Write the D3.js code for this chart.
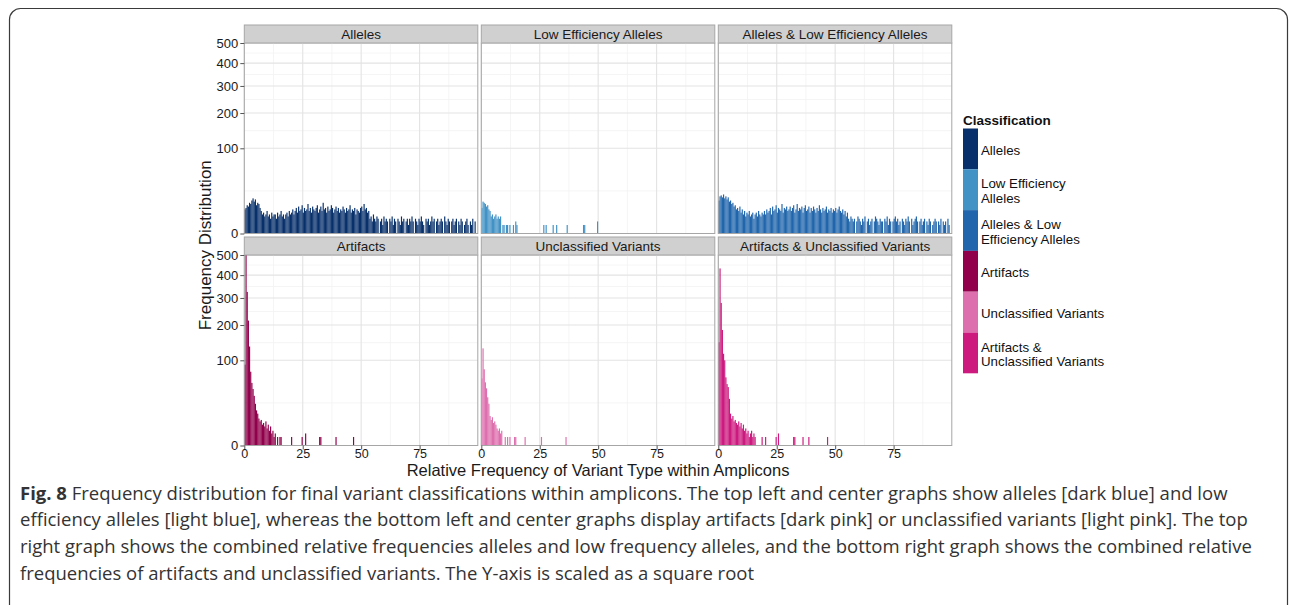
<!DOCTYPE html>
<html>
<head>
<meta charset="utf-8">
<script src="https://cdn.jsdelivr.net/npm/d3@7"></script>
<style>
  body { margin: 0; background: #fff; }
  svg { display: block; }
  .axis text, .strip text, .legend text, .title { font-family: "Liberation Sans", Arial, sans-serif; }
  .caption { font-family: "Open Sans", sans-serif; fill: #333; }
</style>
</head>
<body>
<svg id="chart" width="1290" height="605"></svg>
<script>
// histogram counts per 0.5-wide bin of relative frequency (%), starting at 0
const binWidth = 0.5;

const alleles = [
  8, 9, 11, 10, 13, 12, 15, 17, 14, 16, 11, 13, 12, 9, 7, 5, 6, 4, 5, 7,
  4, 5, 3, 6, 4, 5, 5, 3, 6, 4, 5, 7, 4, 5, 3, 5, 6, 4, 7, 5,
  6, 8, 5, 7, 9, 6, 10, 7, 8, 11, 6, 9, 7, 8, 12, 7, 9, 6, 10, 8,
  7, 9, 11, 6, 8, 10, 7, 13, 8, 9, 6, 10, 7, 8, 11, 9, 6, 8, 10, 7,
  9, 6, 8, 7, 10, 8, 6, 9, 7, 8, 11, 6, 8, 7, 9, 5, 8, 7, 6, 9,
  10, 7, 12, 8, 9, 6, 7, 3, 4, 2, 5, 3, 2, 4, 3, 0, 2, 3, 1, 4,
  2, 3, 2, 0, 3, 2, 4, 1, 3, 2, 0, 3, 2, 1, 4, 2, 3, 0, 2, 3,
  1, 3, 2, 4, 2, 0, 3, 2, 1, 3, 2, 4, 2, 1, 0, 3, 2, 3, 1, 2,
  4, 2, 3, 0, 2, 3, 1, 2, 3, 2, 0, 4, 2, 1, 3, 2, 0, 2, 3, 1,
  2, 3, 0, 2, 1, 3, 2, 0, 1, 2, 3, 1, 0, 2, 1, 3, 0, 2
];

const lowEfficiency = [
  9, 14, 13, 12, 10, 11, 8, 7, 4, 5, 3, 4, 5, 3, 4, 3, 4, 0, 1, 1,
  0, 1, 1, 0, 1, 0, 0, 1, 0, 2, 1, 0, 0, 0, 0, 0, 0, 0, 0, 0,
  0, 0, 0, 0, 0, 0, 0, 0, 0, 0, 0, 0, 0, 1, 0, 1, 0, 0, 0, 0,
  0, 1, 0, 0, 1, 0, 0, 0, 0, 0, 0, 0, 0, 1, 0, 0, 0, 0, 0, 0,
  0, 0, 0, 0, 0, 0, 0, 1, 1, 0, 0, 0, 0, 0, 0, 0, 0, 0, 0, 2
];

const allelesLowEff = [
  15, 19, 20, 18, 21, 17, 19, 16, 18, 14, 15, 12, 13, 10, 11, 8, 9, 7, 10, 6,
  8, 5, 7, 4, 6, 5, 7, 4, 5, 6, 3, 5, 6, 4, 7, 5, 4, 6, 5, 7,
  5, 8, 6, 7, 9, 5, 10, 7, 8, 11, 6, 9, 8, 7, 12, 6, 9, 8, 10, 7,
  8, 10, 7, 9, 11, 6, 8, 12, 7, 9, 8, 10, 6, 9, 11, 7, 8, 10, 6, 9,
  7, 10, 8, 6, 9, 7, 11, 8, 6, 9, 7, 8, 10, 6, 8, 7, 9, 6, 8, 7,
  9, 6, 8, 10, 7, 6, 8, 5, 7, 4, 6, 3, 2, 4, 3, 2, 3, 0, 2, 4,
  3, 2, 1, 3, 2, 4, 0, 2, 3, 1, 2, 3, 0, 2, 4, 3, 2, 1, 3, 2,
  2, 0, 3, 2, 4, 1, 3, 2, 0, 2, 3, 4, 2, 3, 1, 2, 0, 3, 2, 1,
  3, 2, 4, 2, 0, 3, 1, 2, 3, 4, 2, 0, 2, 3, 1, 2, 3, 0, 2, 1,
  3, 2, 0, 1, 2, 3, 2, 0, 2, 1, 3, 0, 2, 1, 2, 0, 3, 1
];

const artifacts = [
  90, 500, 325, 215, 135, 75, 54, 44, 34, 24, 17, 14, 10, 8, 9, 6, 7, 5, 8, 4,
  6, 3, 5, 2, 3, 1, 2, 0, 1, 0, 1, 1, 0, 0, 0, 0, 0, 0, 0, 0,
  1, 0, 0, 0, 0, 0, 0, 0, 0, 1, 0, 0, 2, 0, 0, 0, 0, 0, 0, 0,
  0, 0, 0, 0, 1, 1, 0, 0, 0, 0, 0, 0, 0, 0, 0, 0, 0, 0, 1, 0,
  0, 0, 0, 0, 0, 0, 0, 0, 0, 0, 0, 0, 0, 1
];

const unclassified = [
  62, 130, 80, 55, 45, 32, 24, 12, 9, 11, 7, 8, 6, 4, 3, 4, 2, 3, 0, 0,
  1, 0, 1, 0, 1, 0, 0, 0, 1, 1, 0, 0, 0, 0, 0, 0, 0, 1, 0, 0,
  0, 0, 0, 0, 0, 0, 0, 0, 0, 0, 0, 1, 0, 0, 0, 0, 0, 0, 0, 0,
  0, 0, 0, 0, 0, 0, 0, 0, 0, 0, 0, 0, 1
];

const artifactsUnclassified = [
  147, 432, 280, 184, 116, 100, 64, 52, 47, 30, 14, 10, 12, 8, 9, 7, 6, 8, 5, 7,
  4, 6, 3, 4, 2, 3, 1, 2, 3, 1, 2, 1, 0, 0, 0, 0, 0, 1, 0, 0,
  1, 0, 0, 0, 0, 0, 0, 0, 0, 1, 0, 2, 0, 0, 0, 0, 0, 0, 0, 0,
  0, 0, 0, 0, 1, 1, 0, 0, 0, 0, 0, 0, 1, 0, 0, 0, 0, 1, 0, 0,
  0, 0, 0, 0, 0, 0, 0, 0, 0, 0, 0, 0, 0, 1
];

const classes = [
  "Alleles", "Low Efficiency Alleles", "Alleles & Low Efficiency Alleles",
  "Artifacts", "Unclassified Variants", "Artifacts & Unclassified Variants"
];
const legendLabels = [
  ["Alleles"], ["Low Efficiency", "Alleles"], ["Alleles & Low", "Efficiency Alleles"],
  ["Artifacts"], ["Unclassified Variants"], ["Artifacts &", "Unclassified Variants"]
];
const series = [alleles, lowEfficiency, allelesLowEff, artifacts, unclassified, artifactsUnclassified];
const yTicks = [0, 100, 200, 300, 400, 500];
const xTicks = [0, 25, 50, 75];

const captionLines = [
  " Frequency distribution for final variant classifications within amplicons. The top left and center graphs show alleles [dark blue] and low",
  "efficiency alleles [light blue], whereas the bottom left and center graphs display artifacts [dark pink] or unclassified variants [light pink]. The top",
  "right graph shows the combined relative frequencies alleles and low frequency alleles, and the bottom right graph shows the combined relative",
  "frequencies of artifacts and unclassified variants. The Y-axis is scaled as a square root"
];

const colors = ["#08306b", "#4292c6", "#2166ac", "#91004b", "#de6fae", "#cc1a7e"];

const svg = d3.select("#chart");

// figure frame
svg.append("rect")
  .attr("x", 9.5).attr("y", 8.5)
  .attr("width", 1278).attr("height", 700)
  .attr("rx", 11)
  .attr("fill", "none").attr("stroke", "#3a3a3a").attr("stroke-width", 1.2);

const panelW = 233.5, panelH = 190.5, stripH = 18, gap = 3.5;
const plotLeft = 244.3, plotTop = 25;

const x = d3.scaleLinear().domain([0, 99.9]).range([0, panelW]);
const y = d3.scaleSqrt().domain([0, 500]).range([panelH, 0]);

const yMinor = yTicks.slice(1).map((v, i) => ((Math.sqrt(v) + Math.sqrt(yTicks[i])) / 2) ** 2);
const xMinor = [12.5, 37.5, 62.5, 87.5];

series.forEach((counts, k) => {
  const col = k % 3, row = Math.floor(k / 3);
  const px = plotLeft + col * (panelW + gap);
  const py = plotTop + row * (stripH + panelH + gap);

  const strip = svg.append("g").attr("class", "strip").attr("transform", `translate(${px},${py})`);
  strip.append("rect")
    .attr("x", 0).attr("y", 0).attr("width", panelW).attr("height", stripH)
    .attr("fill", "#d0d0d0").attr("stroke", "#a6a6a6");
  strip.append("text")
    .attr("x", panelW / 2).attr("y", stripH / 2 + 4.8)
    .attr("text-anchor", "middle").attr("font-size", 13.5).attr("fill", "#1a1a1a")
    .text(classes[k]);

  const g = svg.append("g").attr("transform", `translate(${px},${py + stripH})`);

  g.append("g").selectAll("line").data(yMinor).join("line")
    .attr("x1", 0).attr("x2", panelW)
    .attr("y1", (d) => y(d)).attr("y2", (d) => y(d))
    .attr("stroke", "#f2f2f2").attr("stroke-width", 0.8);
  g.append("g").selectAll("line").data(xMinor).join("line")
    .attr("y1", 0).attr("y2", panelH)
    .attr("x1", (d) => x(d)).attr("x2", (d) => x(d))
    .attr("stroke", "#f2f2f2").attr("stroke-width", 0.8);
  g.append("g").selectAll("line").data(yTicks).join("line")
    .attr("x1", 0).attr("x2", panelW)
    .attr("y1", (d) => y(d)).attr("y2", (d) => y(d))
    .attr("stroke", "#e3e3e3").attr("stroke-width", 1.1);
  g.append("g").selectAll("line").data(xTicks).join("line")
    .attr("y1", 0).attr("y2", panelH)
    .attr("x1", (d) => x(d)).attr("x2", (d) => x(d))
    .attr("stroke", "#e3e3e3").attr("stroke-width", 1.1);

  const bars = counts.map((c, i) => ({ x0: i * binWidth, c })).filter((d) => d.c > 0);
  g.append("g").selectAll("rect").data(bars).join("rect")
    .attr("x", (d) => x(d.x0))
    .attr("width", x(binWidth) - x(0))
    .attr("y", (d) => y(d.c))
    .attr("height", (d) => panelH - y(d.c))
    .attr("fill", colors[k]);

  g.append("rect")
    .attr("width", panelW).attr("height", panelH)
    .attr("fill", "none").attr("stroke", "#a6a6a6");

  if (col === 0) {
    const ax = g.append("g").attr("class", "axis")
      .call(d3.axisLeft(y).tickValues(yTicks).tickSize(4).tickPadding(2));
    ax.select(".domain").remove();
    ax.selectAll("line").attr("stroke", "#555");
    ax.selectAll("text").attr("font-size", 13).attr("fill", "#1a1a1a");
  }
  if (row === 1) {
    const ax = g.append("g").attr("class", "axis").attr("transform", `translate(0,${panelH})`)
      .call(d3.axisBottom(x).tickValues(xTicks).tickSize(4).tickPadding(0));
    ax.select(".domain").remove();
    ax.selectAll("line").attr("stroke", "#555");
    ax.selectAll("text").attr("font-size", 12.5).attr("fill", "#1a1a1a");
  }
});

const plotMid = plotLeft + (3 * panelW + 2 * gap) / 2;
svg.append("text").attr("class", "title")
  .attr("x", plotMid).attr("y", 476)
  .attr("text-anchor", "middle").attr("font-size", 16.5).attr("fill", "#1a1a1a")
  .text("Relative Frequency of Variant Type within Amplicons");
svg.append("text").attr("class", "title")
  .attr("transform", `translate(211,${plotTop + stripH + panelH + gap / 2 + 10}) rotate(-90)`)
  .attr("text-anchor", "middle").attr("font-size", 17).attr("fill", "#1a1a1a")
  .text("Frequency Distribution");

// legend
const legend = svg.append("g").attr("class", "legend").attr("transform", "translate(963,0)");
legend.append("text").attr("x", 0).attr("y", 125)
  .attr("font-size", 13.5).attr("font-weight", "bold").attr("fill", "#111")
  .text("Classification");
const keyH = 40.8, keyW = 15, keyTop = 128.5;
legend.selectAll("rect.key").data(colors).join("rect")
  .attr("class", "key")
  .attr("x", 0).attr("y", (d, i) => keyTop + i * keyH)
  .attr("width", keyW).attr("height", keyH)
  .attr("fill", (d) => d);
legend.selectAll("text.lab").data(legendLabels).join("text")
  .attr("class", "lab")
  .attr("font-size", 13.3).attr("fill", "#111")
  .each(function (lines, i) {
    const cy = keyTop + i * keyH + keyH / 2;
    const t = d3.select(this);
    lines.forEach((line, j) => {
      t.append("tspan")
        .attr("x", 18)
        .attr("y", cy + 6 + (j - (lines.length - 1) / 2) * 14.5)
        .text(line);
    });
  });

// caption
const cap = svg.append("g").attr("class", "caption");
captionLines.forEach((line, i) => {
  const t = cap.append("text")
    .attr("x", 20).attr("y", 499.5 + i * 26.8)
    .attr("font-size", 18.5);
  if (i === 0) {
    t.append("tspan").attr("font-weight", "bold").text("Fig. 8");
  }
  t.append("tspan").text(line);
});
</script>
</body>
</html>
